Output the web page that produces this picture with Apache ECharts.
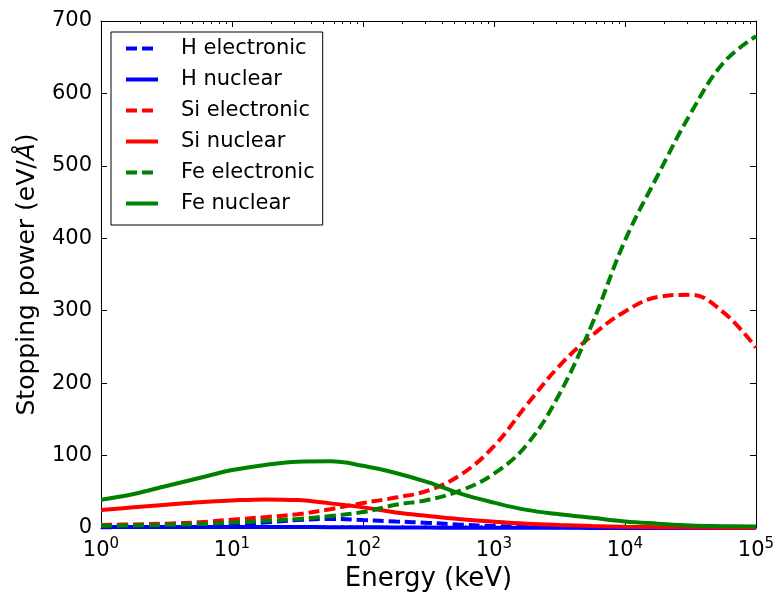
<!DOCTYPE html>
<html>
<head>
<meta charset="utf-8">
<script src="https://cdn.jsdelivr.net/npm/echarts@6/dist/echarts.min.js"></script>
<style>
html,body{margin:0;padding:0;background:#fff;}
#chart{width:774px;height:592px;}
</style>
</head>
<body>
<div id="chart"></div>
<script>
// Energy (keV), log-spaced sample points
const energies = [1, 1.78, 3.16, 5.62, 10, 17.8, 31.6, 56.2, 100, 178, 316, 562, 1000, 1780, 3160, 5620, 10000, 17800, 31600, 56200, 100000];

const hElectronic  = [1.0, 1.5, 2.2, 3.5, 5.0, 7.5, 11.0, 12.5, 11.0, 9.0, 7.0, 4.5, 2.6, 1.8, 1.2, 0.9, 0.6, 0.45, 0.35, 0.25, 0.2];
const hNuclear     = [1.3, 1.4, 1.5, 1.5, 1.5, 1.4, 1.3, 1.2, 1.0, 0.8, 0.6, 0.45, 0.35, 0.27, 0.2, 0.15, 0.1, 0.08, 0.06, 0.04, 0.03];
const siElectronic = [4.0, 5.0, 6.0, 8.0, 11.5, 15.0, 19.0, 26.0, 34.5, 42.0, 52.0, 74.0, 113.0, 170.0, 224.0, 266.0, 299.0, 319.0, 322.0, 298.0, 249.0];
const siNuclear    = [25.0, 28.5, 32.0, 35.5, 38.0, 39.5, 38.5, 34.0, 28.5, 21.5, 16.6, 12.0, 8.7, 6.0, 4.2, 2.8, 1.8, 1.2, 0.8, 0.5, 0.3];
const feElectronic = [3.0, 3.5, 4.5, 5.5, 7.5, 10.0, 12.5, 16.5, 22.0, 32.0, 39.0, 52.0, 75.0, 115.0, 185.0, 282.0, 397.0, 487.0, 572.0, 642.0, 679.0];
const feNuclear    = [39.0, 47.0, 58.0, 69.0, 80.0, 87.0, 91.5, 92.0, 86.0, 76.0, 63.0, 47.0, 35.0, 25.0, 19.0, 14.0, 9.0, 6.0, 3.5, 2.5, 2.0];

const seriesNames = ['H electronic', 'H nuclear', 'Si electronic', 'Si nuclear', 'Fe electronic', 'Fe nuclear'];
const seriesValues = [hElectronic, hNuclear, siElectronic, siNuclear, feElectronic, feNuclear];
const seriesColors = ['#0000ff', '#0000ff', '#ff0000', '#ff0000', '#008000', '#008000'];
const seriesDashed = [true, false, true, false, true, false];

const xMajorTicks = [1, 10, 100, 1000, 10000, 100000];
const yTicks = [0, 100, 200, 300, 400, 500, 600, 700];
const xMinorTicks = [];
for (let d = 0; d < 5; d++) {
  for (let k = 2; k <= 9; k++) xMinorTicks.push(k * Math.pow(10, d));
}

const FONT = 'DejaVu Sans';

function makeSeries(i) {
  return {
    name: seriesNames[i],
    type: 'line',
    xAxisIndex: 0,
    yAxisIndex: 0,
    smooth: 0.4,
    symbol: 'none',
    showSymbol: false,
    silent: true,
    animation: false,
    data: energies.map((e, j) => [e, seriesValues[i][j]]),
    lineStyle: {
      color: seriesColors[i],
      width: 4,
      type: seriesDashed[i] ? [11, 5] : 'solid',
      cap: 'butt'
    },
    itemStyle: { color: seriesColors[i] }
  };
}

const axisLineStyle = { show: true, lineStyle: { color: '#000', width: 1 } };

function logAxis(position, opts) {
  return Object.assign({
    type: 'log',
    logBase: 10,
    min: 1,
    max: 100000,
    position: position,
    axisLine: axisLineStyle,
    splitLine: { show: false },
    axisLabel: { show: false },
    axisTick: { show: false }
  }, opts);
}

const option = {
  animation: false,
  backgroundColor: '#ffffff',
  grid: { left: 101, right: 18, top: 21, bottom: 64, containLabel: false, outerBoundsMode: 'none' },
  legend: {
    orient: 'vertical',
    left: 111,
    top: 32,
    padding: [6, 8, 11, 13],
    itemWidth: 32,
    itemHeight: 14,
    itemGap: 10,
    backgroundColor: '#ffffff',
    borderColor: '#000000',
    borderWidth: 1,
    borderRadius: 0,
    itemStyle: { opacity: 0 },
    lineStyle: { width: 4 },
    textStyle: { fontFamily: FONT, fontSize: 21, color: '#000', padding: [0, 0, 0, 18] },
    data: seriesNames
  },
  xAxis: [
    logAxis('bottom', {
      name: 'Energy (keV)',
      nameLocation: 'middle',
      nameGap: 33,
      nameTextStyle: { fontFamily: FONT, fontSize: 26, color: '#000' },
      axisTick: { show: true, inside: true, length: 6, customValues: xMajorTicks, lineStyle: { color: '#000' } },
      axisLabel: {
        show: true,
        customValues: xMajorTicks,
        margin: 9,
        formatter: function (v) {
          const p = Math.round(Math.log10(v));
          return '{b|10}{e|' + p + '}';
        },
        rich: {
          b: { fontFamily: FONT, fontSize: 21, color: '#000' },
          e: { fontFamily: FONT, fontSize: 15, color: '#000', padding: [0, 0, 12, 0] }
        }
      }
    }),
    logAxis('bottom', {
      axisLine: { show: false },
      axisTick: { show: true, inside: true, length: 3, customValues: xMinorTicks, lineStyle: { color: '#000' } }
    }),
    logAxis('top', {
      axisTick: { show: true, inside: true, length: 6, customValues: xMajorTicks, lineStyle: { color: '#000' } }
    }),
    logAxis('top', {
      axisLine: { show: false },
      axisTick: { show: true, inside: true, length: 3, customValues: xMinorTicks, lineStyle: { color: '#000' } }
    })
  ],
  yAxis: [
    {
      type: 'value',
      min: 0,
      max: 700,
      interval: 100,
      position: 'left',
      name: 'Stopping power (eV/{i|Å})',
      nameLocation: 'middle',
      nameGap: 61,
      nameTextStyle: {
        fontFamily: FONT, fontSize: 25, color: '#000',
        rich: { i: { fontFamily: FONT, fontSize: 25, fontStyle: 'italic', color: '#000' } }
      },
      axisLine: axisLineStyle,
      splitLine: { show: false },
      axisTick: { show: true, inside: true, length: 6, customValues: yTicks, lineStyle: { color: '#000' } },
      axisLabel: { show: true, customValues: yTicks, margin: 9, fontFamily: FONT, fontSize: 21, color: '#000' }
    },
    {
      type: 'value',
      min: 0,
      max: 700,
      interval: 100,
      position: 'right',
      axisLine: axisLineStyle,
      splitLine: { show: false },
      axisTick: { show: true, inside: true, length: 6, customValues: yTicks, lineStyle: { color: '#000' } },
      axisLabel: { show: false }
    }
  ],
  series: seriesNames.map((_, i) => makeSeries(i))
};

const chart = echarts.init(document.getElementById('chart'), null, { renderer: 'canvas' });
chart.setOption(option);
</script>
</body>
</html>
